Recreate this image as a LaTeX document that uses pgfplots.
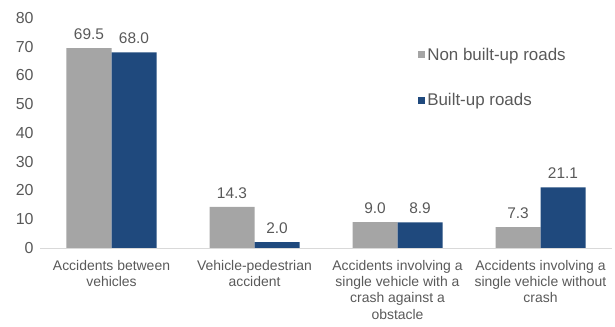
\documentclass[border=0pt]{standalone}
\usepackage{pgfplots}
\pgfplotsset{compat=1.18}
\usepackage{fontspec}
\setmainfont{Liberation Sans}
\definecolor{cgrey}{RGB}{165,165,165}
\definecolor{cblue}{RGB}{31,73,125}
\definecolor{ctext}{RGB}{89,89,89}
\definecolor{cline}{RGB}{217,217,217}
\begin{document}
\begin{tikzpicture}
\begin{axis}[
  at={(40bp,79bp)}, anchor=south west,
  scale only axis, width=572bp, height=230bp,
  ybar=0pt, bar width=45bp,
  xmin=-0.5, xmax=3.5, ymin=0, ymax=80,
  ytick={0,10,...,80},
  xtick=data,
  xticklabels={{Accidents between\\vehicles},{Vehicle-pedestrian\\accident},{Accidents involving a\\single vehicle with a\\crash against a\\obstacle},{Accidents involving a\\single vehicle without\\crash}},
  xticklabel style={align=center, font=\fontsize{14}{16.2}\selectfont, text=ctext, yshift=-9bp},
  yticklabel style={font=\fontsize{16}{18}\selectfont, text=ctext, xshift=-3bp},
  /pgf/number format/assume math mode=true,
  major tick length=0pt,
  axis x line*=bottom,
  axis y line*=left,
  y axis line style={draw=none},
  x axis line style={cline, line width=1pt, -},
  nodes near coords,
  nodes near coords style={font=\fontsize{15.5}{18}\selectfont, text=ctext, yshift=5bp, /pgf/number format/.cd, fixed, fixed zerofill, precision=1, assume math mode=true},
  legend cell align=left,
  legend style={at={(0.661,0.88)}, anchor=north west, draw=none, fill=none, font=\fontsize{17}{19}\selectfont, text=ctext, row sep=28bp, inner sep=0pt},
  legend image code/.code={\fill[#1] (0bp,-3.5bp) rectangle (7bp,3.5bp);},
]
\addplot[fill=cgrey, draw=none] coordinates {(0,69.5) (1,14.3) (2,9.0) (3,7.3)};
\addplot[fill=cblue, draw=none] coordinates {(0,68.0) (1,2.0) (2,8.9) (3,21.1)};
\legend{Non built-up roads, Built-up roads}
\end{axis}
\pgfresetboundingbox
\useasboundingbox (0,0) rectangle (615bp,327bp);
\end{tikzpicture}
\end{document}
